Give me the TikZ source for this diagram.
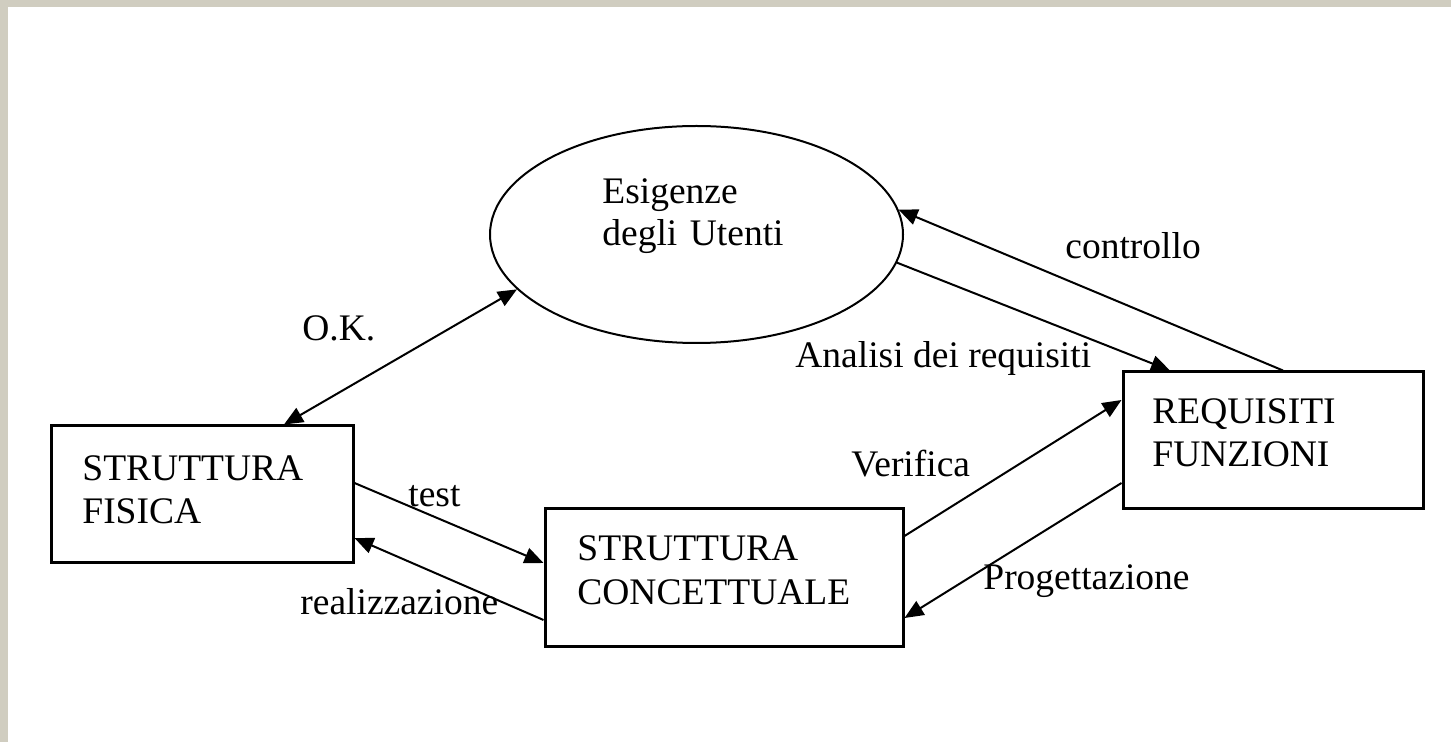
\documentclass[tikz,border=0pt]{standalone}
\usepackage{fontspec}
\setmainfont{Liberation Serif}
\usetikzlibrary{shapes.geometric,arrows.meta}
\definecolor{cornice}{RGB}{208,205,192}
\begin{document}
\begin{tikzpicture}[x=0.5pt,y=-0.5pt,
                font=\fontsize{18.75}{21.5}\selectfont,
                box/.style={draw,line width=1.5pt,minimum height=68.5pt,inner sep=0pt},
                txt/.style={anchor=base west,inner sep=0pt,align=left,text width=140pt},
                lbl/.style={anchor=base west,inner sep=0pt},
                conn/.style={line width=1pt,-{Triangle[length=9.5pt,width=8pt]}}]
                \useasboundingbox (0,0) rectangle (1451,742);
                \fill[cornice] (0,0) rectangle (1451,742);
                \fill[white] (8,7) rectangle (1451,742);

                \node[draw,ellipse,line width=1pt,minimum width=206.5pt,minimum height=108.5pt] (esig) at (696.5,234.5) {};
                \node[txt,font=\fontsize{18.75}{21}\selectfont] (esigT) at (602,204) {Esigenze\\degli Utenti};

                \node[box,minimum width=151pt] (fisica) at (202,494.5) {};
                \node[txt] (fisicaT) at (82,481) {STRUTTURA\\FISICA};

                \node[box,minimum width=179pt,minimum height=69pt] (concett) at (724,578) {};
                \node[txt,text width=170pt] (concettT) at (577,561) {STRUTTURA\\CONCETTUALE};

                \node[box,minimum width=150pt] (requis) at (1273,440.5) {};
                \node[txt] (requisT) at (1152,424) {REQUISITI\\FUNZIONI};

                \node[lbl] (ok) at (302,341) {O.K.};
                \node[lbl] (controllo) at (1065,259) {controllo};
                \node[lbl] (analisi) at (795,368) {Analisi dei requisiti};
                \node[lbl] (test) at (408,507) {test};
                \node[lbl] (realizz) at (300,615) {realizzazione};
                \node[lbl] (verifica) at (851,477) {Verifica};
                \node[lbl] (progett) at (983,590) {Progettazione};

                \draw[conn,{Triangle[length=9.5pt,width=8pt]}-{Triangle[length=9.5pt,width=8pt]}] ([xshift=41pt]fisica.north) -- (esig.197);
                \draw[conn] ([xshift=5pt]requis.north) -- (esig.7);
                \draw[conn] (esig.-8) -- ([xshift=-51.5pt]requis.north);
                \draw[conn] ([yshift=5.75pt]fisica.east) -- ([yshift=7.5pt]concett.west);
                \draw[conn] ([yshift=-21pt]concett.west) -- ([yshift=-21.75pt]fisica.east);
                \draw[conn] ([yshift=21pt]concett.east) -- ([yshift=20.25pt]requis.west);
                \draw[conn] ([yshift=-21.25pt]requis.west) -- ([yshift=-20pt]concett.east);
            \end{tikzpicture}
\end{document}
